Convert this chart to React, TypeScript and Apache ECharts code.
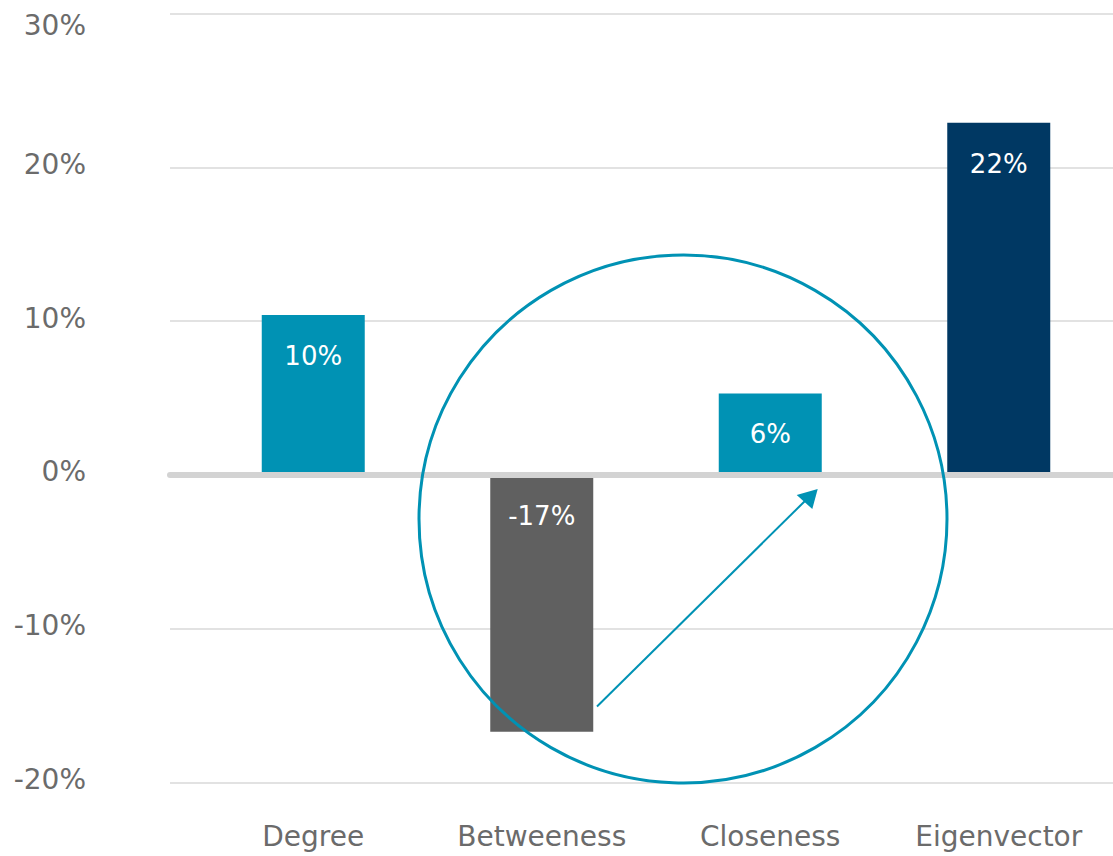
import React, { useEffect, useRef } from "react";
import * as echarts from "echarts";

const categories = ["Degree", "Betweeness", "Closeness", "Eigenvector"];
const values = [10.4, -16.7, 5.3, 22.9];
const valueLabels = ["10%", "-17%", "6%", "22%"];
const barColors = ["#0092B4", "#606060", "#0092B4", "#003863"];
const yTicks = [-20, -10, 0, 10, 20, 30];

const TEAL = "#0092B4";
const FONT = "'DejaVu Sans', sans-serif";
const TEXT = "#6b6b6b";

export default function App() {
  const ref = useRef<HTMLDivElement>(null);

  useEffect(() => {
    if (!ref.current) return;
    const chart = echarts.init(ref.current, null, { renderer: "svg" });
    const top = 13.5;
    const bottom = 856 - 782.6;
    const yMin = yTicks[0];
    const yMax = yTicks[yTicks.length - 1];

    chart.setOption({
      animation: false,
      backgroundColor: "#ffffff",
      grid: [
        { left: 170, right: 0, top, bottom },
        { left: 199, right: -4, top, bottom },
      ],
      xAxis: [
        {
          gridIndex: 0,
          type: "category",
          data: [""],
          z: 10,
          axisLine: { show: true, onZero: true, lineStyle: { color: "#d3d3d3", width: 6 } },
          axisTick: { show: false },
          axisLabel: { show: false },
          splitLine: { show: false },
        },
        {
          gridIndex: 1,
          type: "category",
          data: categories,
          position: "bottom",
          axisLine: { show: false, onZero: false },
          axisTick: { show: false },
          axisLabel: {
            color: TEXT,
            fontSize: 28,
            fontFamily: FONT,
            margin: 40,
          },
        },
      ],
      yAxis: [
        {
          gridIndex: 0,
          type: "value",
          min: yMin,
          max: yMax,
          interval: 10,
          axisLine: { show: false },
          axisTick: { show: false },
          splitLine: { show: true, lineStyle: { color: "#d9d9d9", width: 1.5 } },
          axisLabel: {
            margin: 84,
            formatter: (v: number) => (v === yMax ? `{t|${v}%}` : `{n|${v}%}`),
            rich: {
              t: { color: TEXT, fontSize: 28, fontFamily: FONT, padding: [24, 0, 0, 0] },
              n: { color: TEXT, fontSize: 28, fontFamily: FONT, padding: [0, 0, 6, 0] },
            },
          },
        },
        {
          gridIndex: 1,
          type: "value",
          min: yMin,
          max: yMax,
          interval: 10,
          show: false,
          splitLine: { show: false },
        },
      ],
      series: [
        {
          type: "bar",
          xAxisIndex: 1,
          yAxisIndex: 1,
          barWidth: 103,
          data: values.map((v, i) => ({
            value: v,
            itemStyle: { color: barColors[i] },
          })),
          label: {
            show: true,
            position: "insideTop",
            distance: 28,
            color: "#ffffff",
            fontSize: 26,
            fontFamily: FONT,
            formatter: (p: any) => valueLabels[p.dataIndex],
          },
        },
      ],
      graphic: [
        {
          type: "circle",
          z: 100,
          shape: { cx: 683, cy: 519, r: 264 },
          style: { fill: "none", stroke: TEAL, lineWidth: 3 },
        },
        {
          type: "line",
          z: 100,
          shape: { x1: 597, y1: 706.5, x2: 809, y2: 497 },
          style: { stroke: TEAL, lineWidth: 2 },
        },
        {
          type: "polygon",
          z: 100,
          shape: {
            points: [
              [817.7, 489],
              [796.7, 495],
              [812.3, 509],
            ],
          },
          style: { fill: TEAL },
        },
      ],
    });

    return () => chart.dispose();
  }, []);

  return (
    <div
      ref={ref}
      style={{ position: "fixed", left: 0, top: 0, width: 1113, height: 856 }}
    />
  );
}
